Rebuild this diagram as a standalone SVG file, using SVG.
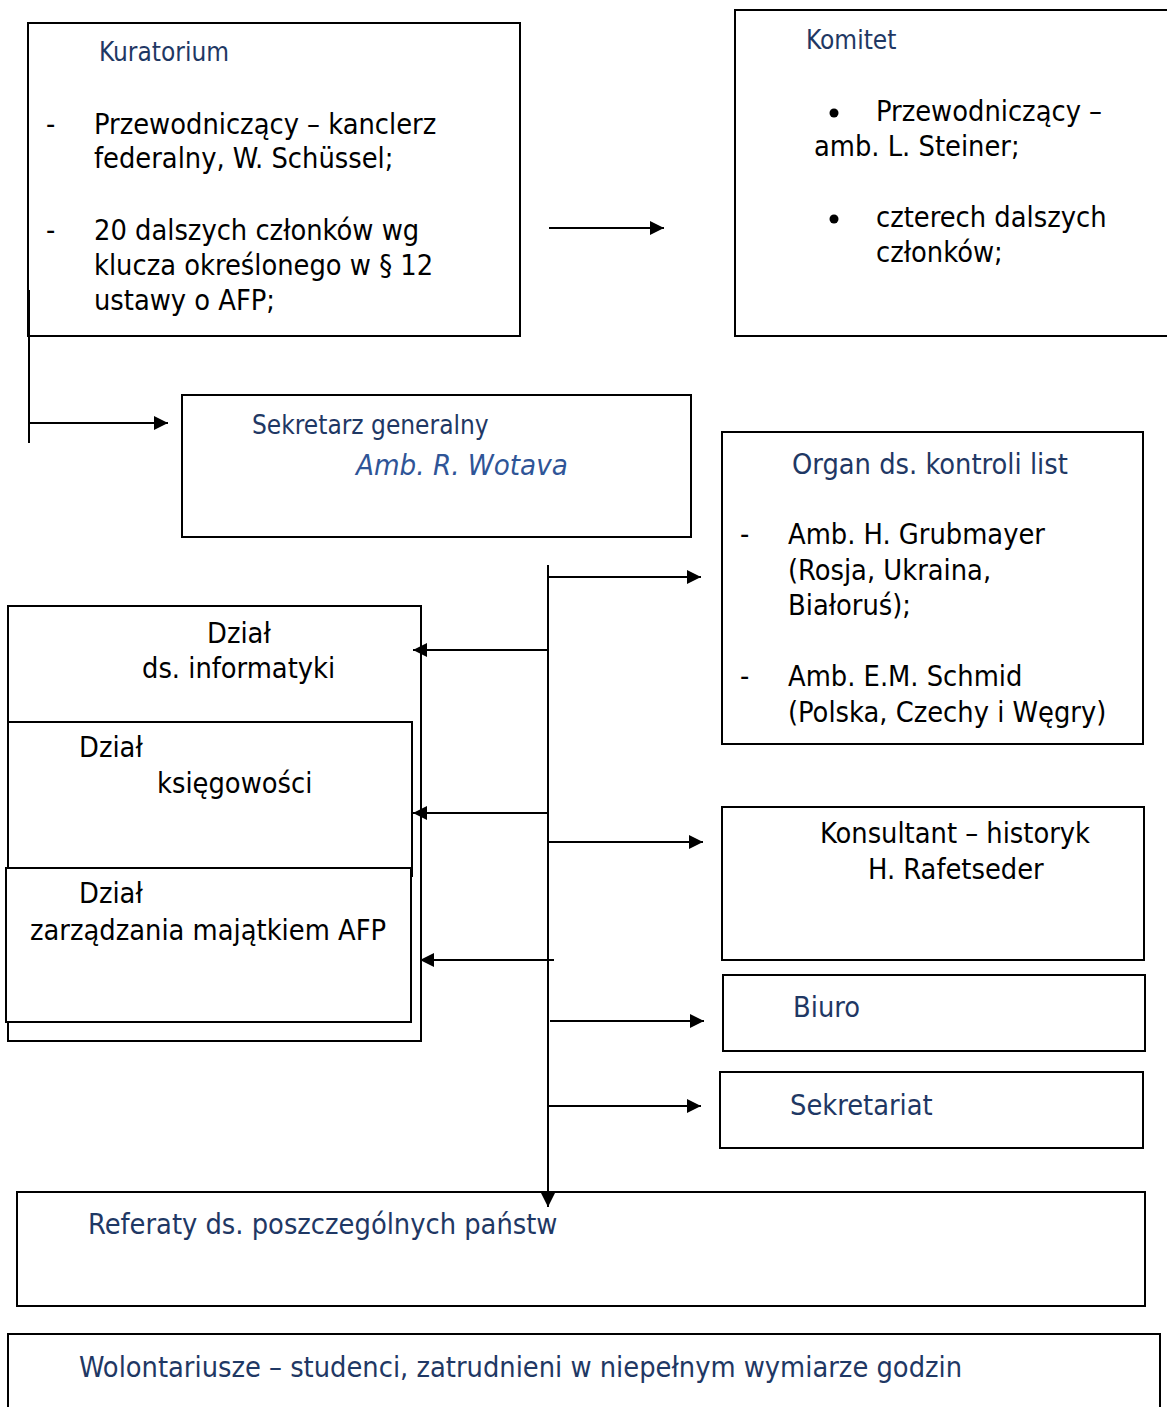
<svg xmlns="http://www.w3.org/2000/svg" width="1167" height="1407" viewBox="0 0 1167 1407">
<style>
.box{fill:#fff;stroke:#000;stroke-width:2}
.t{font-family:"DejaVu Sans Condensed","DejaVu Sans",sans-serif;font-stretch:condensed;font-size:28.7px;fill:#000}
.b{fill:#1f3864}
.h{font-size:26px}
.i{font-style:italic;fill:#2f5597;font-size:29.2px}
.c{stroke:#000;stroke-width:2;fill:none}
</style>
<defs>
<marker id="ah" markerUnits="userSpaceOnUse" markerWidth="14" markerHeight="14" refX="14" refY="7" orient="auto"><path d="M0,0 L14,7 L0,14 z" fill="#000"/></marker>
</defs>
<rect width="1167" height="1407" fill="#fff"/>
<g id="kuratorium">
<rect class="box" x="28" y="23" width="492" height="313"/>
<text class="t b h" x="99" y="61">Kuratorium</text>
<text class="t" x="46" y="134">-</text>
<text class="t" x="94" y="134">Przewodniczący – kanclerz</text>
<text class="t" x="94" y="168">federalny, W. Schüssel;</text>
<text class="t" x="46" y="240">-</text>
<text class="t" x="94" y="240">20 dalszych członków wg</text>
<text class="t" x="94" y="275">klucza określonego w § 12</text>
<text class="t" x="94" y="310">ustawy o AFP;</text>
</g>
<g id="komitet">
<rect class="box" x="735" y="10" width="440" height="326"/>
<text class="t b h" x="806" y="49">Komitet</text>
<circle cx="834" cy="113" r="4.5" fill="#000"/>
<text class="t" x="876" y="121">Przewodniczący –</text>
<text class="t" x="814" y="156">amb. L. Steiner;</text>
<circle cx="834" cy="219" r="4.5" fill="#000"/>
<text class="t" x="876" y="227">czterech dalszych</text>
<text class="t" x="876" y="262">członków;</text>
</g>
<g id="sekretarz">
<rect class="box" x="182" y="395" width="509" height="142"/>
<text class="t b h" x="252" y="434">Sekretarz generalny</text>
<text class="t i" x="356" y="475">Amb. R. Wotava</text>
</g>
<g id="organ">
<rect class="box" x="722" y="432" width="421" height="312"/>
<text class="t b" x="792" y="474">Organ ds. kontroli list</text>
<text class="t" x="740" y="544">-</text>
<text class="t" x="788" y="544">Amb. H. Grubmayer</text>
<text class="t" x="788" y="580">(Rosja, Ukraina,</text>
<text class="t" x="788" y="615">Białoruś);</text>
<text class="t" x="740" y="686">-</text>
<text class="t" x="788" y="686">Amb. E.M. Schmid</text>
<text class="t" x="788" y="722">(Polska, Czechy i Węgry)</text>
</g>
<g id="dzialy">
<rect class="box" x="8" y="606" width="413" height="435"/>
<text class="t" x="207" y="643">Dział</text>
<text class="t" x="142" y="678">ds. informatyki</text>
</g>
<g id="ksiegowosc">
<rect class="box" x="8" y="722" width="404" height="154"/>
<text class="t" x="79" y="757">Dział</text>
<text class="t" x="157" y="793">księgowości</text>
</g>
<g id="majatek">
<rect class="box" x="6" y="868" width="405" height="154"/>
<text class="t" x="79" y="903">Dział</text>
<text class="t" x="30" y="940">zarządzania majątkiem AFP</text>
</g>
<g id="konsultant">
<rect class="box" x="722" y="807" width="422" height="153"/>
<text class="t" x="820" y="843">Konsultant – historyk</text>
<text class="t" x="868" y="879">H. Rafetseder</text>
</g>
<g id="biuro">
<rect class="box" x="723" y="975" width="422" height="76"/>
<text class="t b" x="793" y="1017">Biuro</text>
</g>
<g id="sekretariat">
<rect class="box" x="720" y="1072" width="423" height="76"/>
<text class="t b" x="790" y="1115">Sekretariat</text>
</g>
<g id="referaty">
<rect class="box" x="17" y="1192" width="1128" height="114"/>
<text class="t b" x="88" y="1234">Referaty ds. poszczególnych państw</text>
</g>
<g id="wolontariusze">
<rect class="box" x="8" y="1334" width="1152" height="90"/>
<text class="t b" x="79" y="1377">Wolontariusze – studenci, zatrudnieni w niepełnym wymiarze godzin</text>
</g>
<g id="connectors">
<line class="c" x1="549" y1="228" x2="664" y2="228" marker-end="url(#ah)"/>
<line class="c" x1="29" y1="290" x2="29" y2="443" stroke-width="2.5"/>
<line class="c" x1="29" y1="423" x2="168" y2="423" marker-end="url(#ah)"/>
<line class="c" x1="548" y1="565" x2="548" y2="1207" marker-end="url(#ah)"/>
<line class="c" x1="548" y1="577" x2="701" y2="577" marker-end="url(#ah)"/>
<line class="c" x1="548" y1="842" x2="703" y2="842" marker-end="url(#ah)"/>
<line class="c" x1="550" y1="1021" x2="704" y2="1021" marker-end="url(#ah)"/>
<line class="c" x1="548" y1="1106" x2="701" y2="1106" marker-end="url(#ah)"/>
<line class="c" x1="548" y1="650" x2="413" y2="650" marker-end="url(#ah)"/>
<line class="c" x1="548" y1="813" x2="413" y2="813" marker-end="url(#ah)"/>
<line class="c" x1="554" y1="960" x2="420" y2="960" marker-end="url(#ah)"/>
</g>
</svg>
